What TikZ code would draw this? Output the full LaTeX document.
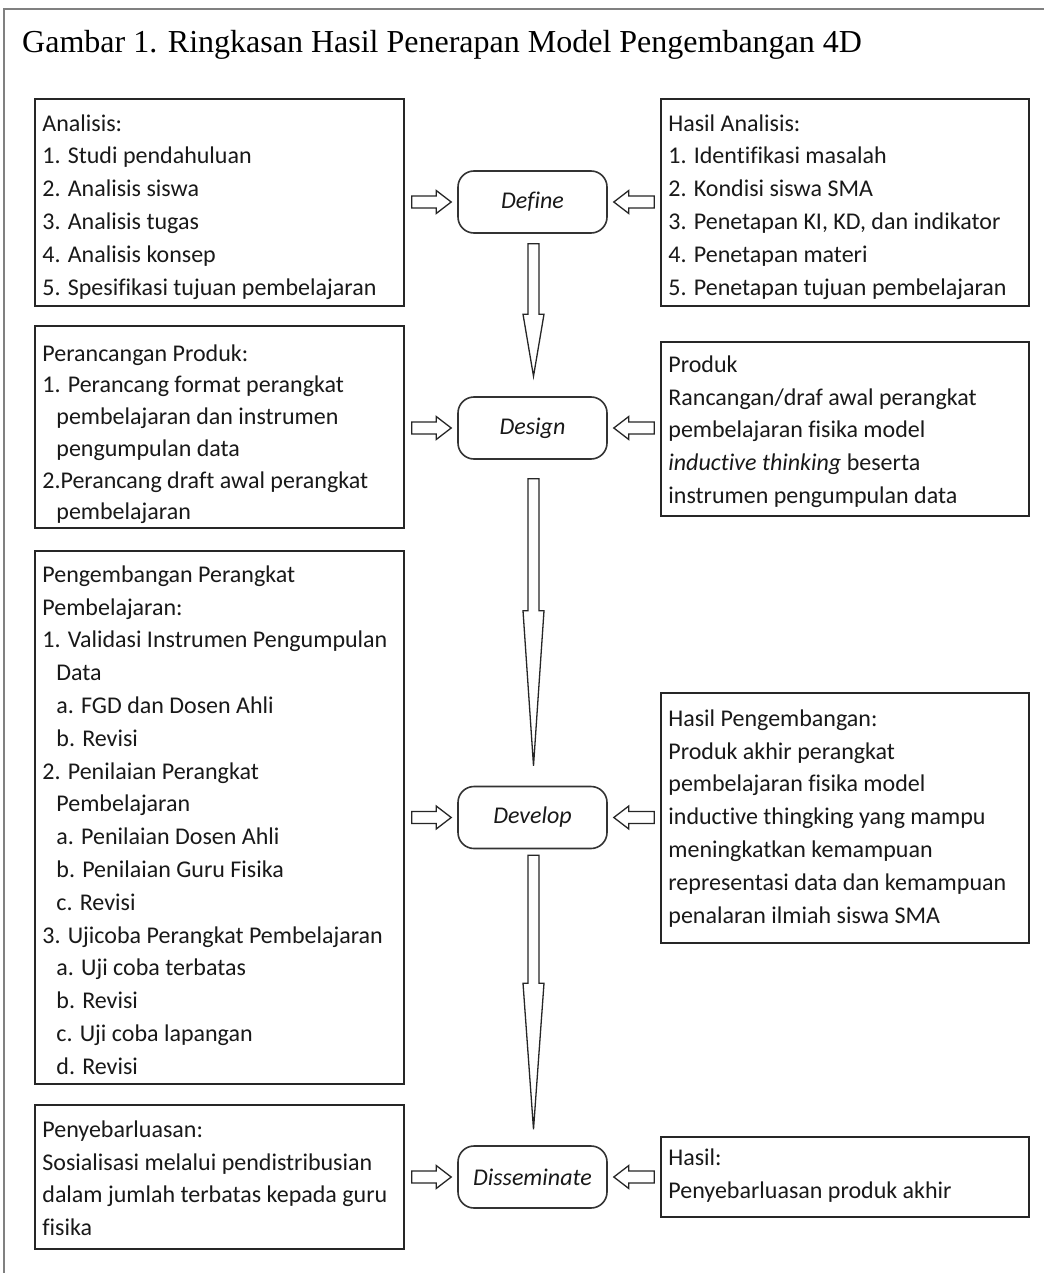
\documentclass[tikz,border=0pt]{standalone}
\usepackage{fontspec}
\setmainfont{Carlito}[Ligatures=NoCommon]
\newfontfamily\titlefont{Liberation Serif}
\usetikzlibrary{calc}

\newcommand\boxtext[2][32.8]{\begin{minipage}[t]{355pt}\fontsize{24}{#1}\selectfont\raggedright #2\end{minipage}}
\newcommand\ind{\hspace*{14pt}}

\newcommand\dblockarrow[3]{%
 \draw[blk] let \p1=(#1), \p2=(#2) in
 (\x1-5.5pt,\y1) -- (\x1+5.5pt,\y1) -- (\x1+5.5pt,\y2+#3) -- (\x1+10.5pt,\y2+#3) -- (\x1,\y2)
 -- (\x1-10.5pt,\y2+#3) -- (\x1-5.5pt,\y2+#3) -- cycle;}
\newcommand\rblockarrow[2]{%
 \draw[blk] let \p1=(#1), \p2=(#2) in
 (\x1,\y2+6pt) -- (\x2-15pt,\y2+6pt) -- (\x2-15pt,\y2+11.5pt) -- (\x2,\y2)
 -- (\x2-15pt,\y2-11.5pt) -- (\x2-15pt,\y2-6pt) -- (\x1,\y2-6pt) -- cycle;}
\newcommand\lblockarrow[2]{%
 \draw[blk] let \p1=(#1), \p2=(#2) in
 (\x1,\y2+6pt) -- (\x2+15pt,\y2+6pt) -- (\x2+15pt,\y2+11.5pt) -- (\x2,\y2)
 -- (\x2+15pt,\y2-11.5pt) -- (\x2+15pt,\y2-6pt) -- (\x1,\y2-6pt) -- cycle;}

\tikzset{
 box/.style={draw=black!85, line width=1.6pt, inner sep=0pt, rectangle},
 stage/.style={draw=black!80, line width=1.6pt, rounded corners=16pt,
   minimum width=149pt, minimum height=62pt, inner sep=0pt,
   font=\fontsize{24}{28}\selectfont\itshape, text=black!90},
 txt/.style={anchor=base west, inner sep=0pt, text=black!90},
 blk/.style={draw=black!85, line width=1.3pt, fill=white, line join=miter},
 frame/.style={draw=black!50, line width=1.8pt},
}

\begin{document}
\begin{tikzpicture}[x=1pt,y=-1pt]
\useasboundingbox (0,0) rectangle (1044,1273);
\fill[white] (0,0) rectangle (1044,1273);

% outer frame
\coordinate (f1) at (4,1273);
\coordinate (f2) at (4,9);
\coordinate (f3) at (1044,9);
\draw[frame] (f1) -- (f2) -- (f3);

% title
\node[anchor=base west, inner sep=0pt, font=\titlefont\fontsize{32}{38}\selectfont] (title) at (22,53)
  {Gambar 1. Ringkasan Hasil Penerapan Model Pengembangan 4D};

% left boxes
\node[box, minimum width=369pt, minimum height=207pt] (L1) at (219.5,202.5) {};
\node[box, minimum width=369pt, minimum height=202pt] (L2) at (219.5,427) {};
\node[box, minimum width=369pt, minimum height=533pt] (L3) at (219.5,817.5) {};
\node[box, minimum width=369pt, minimum height=144pt] (L4) at (219.5,1177) {};
% right boxes
\node[box, minimum width=368pt, minimum height=207pt] (R1) at (845,202.5) {};
\node[box, minimum width=368pt, minimum height=174pt] (R2) at (845,429) {};
\node[box, minimum width=368pt, minimum height=250pt] (R3) at (845,818) {};
\node[box, minimum width=368pt, minimum height=80pt] (R4) at (845,1177) {};

% stages
\node[stage] (Define) at (532.5,202) {Define};
\node[stage] (Design) at (532.5,428) {Design};
\node[stage] (Develop) at (532.5,817.5) {Develop};
\node[stage] (Diss) at (532.5,1177) {Disseminate};

% texts
\node[txt] (L1t) at ($(L1.north west)+(8,33)$) {\boxtext{Analisis:\\
1. Studi pendahuluan\\
2. Analisis siswa\\
3. Analisis tugas\\
4. Analisis konsep\\
5. Spesifikasi tujuan pembelajaran}};

\node[txt] (L2t) at ($(L2.north west)+(8,36)$) {\boxtext[31.7]{Perancangan Produk:\\
1. Perancang format perangkat\\
\ind pembelajaran dan instrumen\\
\ind pengumpulan data\\
2.Perancang draft awal perangkat\\
\ind pembelajaran}};

\node[txt] (L3t) at ($(L3.north west)+(8,32)$) {\boxtext{Pengembangan Perangkat\\
Pembelajaran:\\
1. Validasi Instrumen Pengumpulan\\
\ind Data\\
\ind a. FGD dan Dosen Ahli\\
\ind b. Revisi\\
2. Penilaian Perangkat\\
\ind Pembelajaran\\
\ind a. Penilaian Dosen Ahli\\
\ind b. Penilaian Guru Fisika\\
\ind c. Revisi\\
3. Ujicoba Perangkat Pembelajaran\\
\ind a. Uji coba terbatas\\
\ind b. Revisi\\
\ind c. Uji coba lapangan\\
\ind d. Revisi}};

\node[txt] (L4t) at ($(L4.north west)+(8,33)$) {\boxtext{Penyebarluasan:\\
Sosialisasi melalui pendistribusian\\
dalam jumlah terbatas kepada guru\\
fisika}};

\node[txt] (R1t) at ($(R1.north west)+(8,33)$) {\boxtext{Hasil Analisis:\\
1. Identifikasi masalah\\
2. Kondisi siswa SMA\\
3. Penetapan KI, KD, dan indikator\\
4. Penetapan materi\\
5. Penetapan tujuan pembelajaran}};

\node[txt] (R2t) at ($(R2.north west)+(8,31)$) {\boxtext{Produk\\
Rancangan/draf awal perangkat\\
pembelajaran fisika model\\
\textit{inductive thinking} beserta\\
instrumen pengumpulan data}};

\node[txt] (R3t) at ($(R3.north west)+(8,34)$) {\boxtext{Hasil Pengembangan:\\
Produk akhir perangkat\\
pembelajaran fisika model\\
inductive thingking yang mampu\\
meningkatkan kemampuan\\
representasi data dan kemampuan\\
penalaran ilmiah siswa SMA}};

\node[txt] (R4t) at ($(R4.north west)+(8,29)$) {\boxtext{Hasil:\\
Penyebarluasan produk akhir}};

% horizontal block arrows
\foreach \s/\l/\r in {Define/L1/R1, Design/L2/R2, Develop/L3/R3, Diss/L4/R4}{
  \coordinate (\s-ls) at ($(\s.west -| \l.east)+(7,0)$);
  \coordinate (\s-le) at ($(\s.west)+(-6,0)$);
  \coordinate (\s-rs) at ($(\s.east -| \r.west)+(-6,0)$);
  \coordinate (\s-re) at ($(\s.east)+(6,0)$);
  \rblockarrow{\s-ls}{\s-le}
  \lblockarrow{\s-rs}{\s-re}
}

% vertical block arrows
\coordinate (v1s) at ($(Define.south)+(1,10)$);
\coordinate (v1e) at ($(Design.north)+(1,-20)$);
\coordinate (v2s) at ($(Design.south)+(1,19)$);
\coordinate (v2e) at ($(Develop.north)+(1,-20)$);
\coordinate (v3s) at ($(Develop.south)+(1,6)$);
\coordinate (v3e) at ($(Diss.north)+(1,-16)$);
\dblockarrow{v1s}{v1e}{62pt}
\dblockarrow{v2s}{v2e}{155pt}
\dblockarrow{v3s}{v3e}{146pt}
\end{tikzpicture}
\end{document}
